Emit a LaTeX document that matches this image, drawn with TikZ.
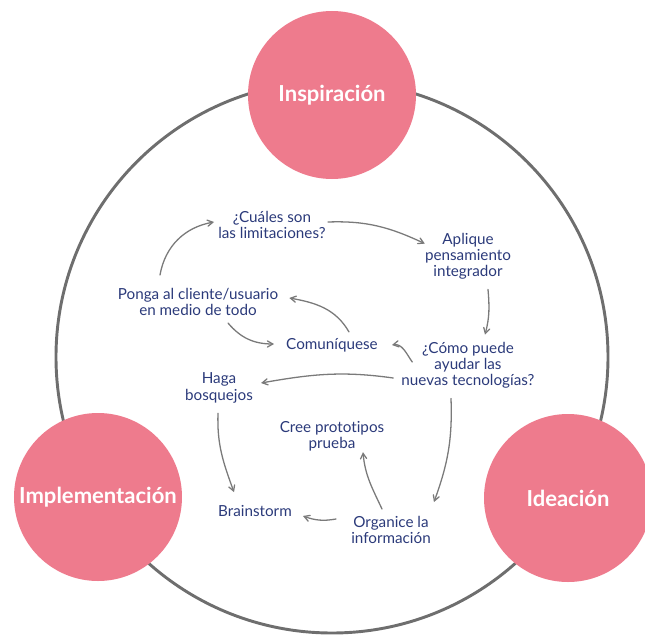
\documentclass[tikz,border=0pt]{standalone}
\usepackage{fontspec}
\setmainfont{Lato}[Ligatures=NoCommon]
\usepackage{tikz}
\usetikzlibrary{arrows}
\definecolor{rosa}{HTML}{EE7B8D}
\definecolor{marino}{HTML}{2B3A7A}
\definecolor{aro}{HTML}{6E6E6E}
\definecolor{gris}{HTML}{7A7A7A}
\tikzset{
  fase/.style={circle,fill=rosa,minimum size=5.04cm,inner sep=0pt,text=white,font=\fontsize{18.8}{21}\selectfont\bfseries},
  idea/.style={align=center,inner sep=0pt,text=marino,font=\fontsize{13}{13.8}\selectfont},
  flecha/.style={->,draw=gris,line width=1.1pt}
}
\begin{document}
\begin{tikzpicture}[line cap=round,line join=round,>=angle 60,x=1.0cm,y=1.0cm]
\clip(-9.96,-8.31) rectangle (9.39,10.71);
\useasboundingbox (-9.96,-8.31) rectangle (9.39,10.71);
\draw [aro,line width=2.5pt] (0,0) circle (8.28);
\node [fase] (inspiracion) at (0,7.86) {Inspiración};
\node [fase] (implementacion) at (-7.02,-4.2) {Implementación};
\node [fase] (ideacion) at (7.08,-4.23) {Ideación};
% preguntas y pasos
\node [idea] (cuales) at (-1.8,3.96) {¿Cuáles son\\las limitaciones?};
\node [idea] (aplique) at (4.08,3.03) {Aplique\\pensamiento\\integrador};
\node [idea] (ponga) at (-4.02,1.65) {Ponga al cliente/usuario\\en medio de todo};
\node [idea] (comun) at (0,0.36) {Comuníquese};
\node [idea] (como) at (4.08,-0.24) {¿Cómo puede\\ayudar las\\nuevas tecnologías?};
\node [idea] (haga) at (-3.39,-0.93) {Haga\\bosquejos};
\node [idea] (cree) at (0,-2.37) {Cree prototipos\\prueba};
\node [idea] (brain) at (-2.31,-4.62) {Brainstorm};
\node [idea] (organice) at (1.77,-5.19) {Organice la\\información};
% flechas
\draw [flecha] ([shift={(-1.14,0.39)}]ponga.north) to[out=80,in=190] ([shift={(-0.12,0.09)}]cuales.west);
\draw [flecha] ([shift={(0.06,0.09)}]cuales.east) to[out=2,in=155] ([shift={(0,-0.33)}]aplique.north west);
\draw [flecha] ([shift={(0.6,-0.3)}]aplique.south) to[out=-85,in=75] ([shift={(0.51,0.21)}]como.north);
\draw [flecha] ([shift={(0.33,0.09)}]como.west) to[out=125,in=10] ([shift={(0.42,0)}]comun.east);
\draw [flecha] ([shift={(0.51,0.18)}]comun.north) to[out=120,in=-10] ([shift={(0.33,0.12)}]ponga.east);
\draw [flecha] ([shift={(0.9,-0.21)}]ponga.south) to[out=-50,in=180] ([shift={(-0.36,0.03)}]comun.west);
\draw [flecha] ([shift={(-0.24,-0.39)}]como.west) to[out=172,in=10] ([shift={(0.24,0.15)}]haga.east);
\draw [flecha] ([shift={(-0.51,-0.3)}]como.south) to[out=-88,in=70] ([shift={(0.09,0.42)}]organice.north east);
\draw [flecha] ([shift={(-0.03,-0.3)}]haga.south) to[out=-92,in=110] ([shift={(0.48,0.39)}]brain.north west);
\draw [flecha] ([shift={(-0.27,0.21)}]organice.north) to[out=115,in=-85] ([shift={(0.93,-0.03)}]cree.south);
\draw [flecha] ([shift={(-0.45,0.33)}]organice.west) to[out=190,in=-20] ([shift={(0.33,-0.15)}]brain.east);
\end{tikzpicture}
\end{document}
